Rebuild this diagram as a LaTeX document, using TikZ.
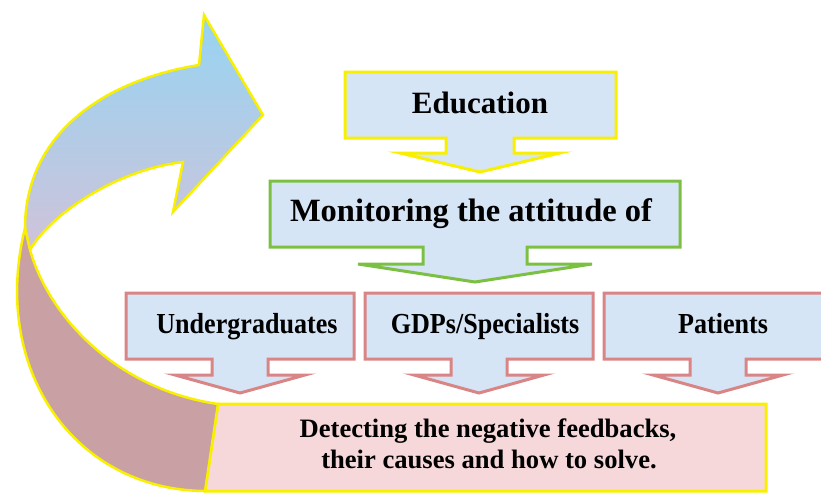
\documentclass[tikz,border=0pt]{standalone}
\usepackage{fontspec}
\setmainfont{Liberation Serif}
\newfontfamily\condfont{Liberation Serif}[FakeStretch=0.9]
\definecolor{boxfill}{HTML}{D6E5F6}
\definecolor{eduyel}{HTML}{F8F000}
\definecolor{mongreen}{HTML}{7BC043}
\definecolor{grpred}{HTML}{D98585}
\definecolor{botfill}{HTML}{F7D8DA}
\definecolor{bandred}{HTML}{C9A0A3}
\definecolor{arrtop}{HTML}{96D4F2}
\definecolor{arrmid}{HTML}{B2D3EE}
\definecolor{arrbot}{HTML}{CFC3DA}
\begin{document}
\begin{tikzpicture}[x=1pt,y=-1pt,
  box/.style={line width=3pt, line join=miter, fill=boxfill},
  lbl/.style={anchor=base, inner sep=0pt, font=\bfseries}]
\useasboundingbox (0,0) rectangle (821,496);

% Education callout
\draw[box, draw=eduyel] (345,72) -- (616,72) -- (616,138) -- (514,138) -- (514,153) -- (560,153)
  -- (480,172) -- (400,153) -- (446,153) -- (446,138) -- (345,138) -- cycle;
% Monitoring callout
\draw[box, draw=mongreen] (270,181) -- (680,181) -- (680,247) -- (527,247) -- (527,264) -- (592,264)
  -- (475,282) -- (358,264) -- (423,264) -- (423,247) -- (270,247) -- cycle;
% Undergraduates callout
\draw[box, draw=grpred] (126,293) -- (354,293) -- (354,359) -- (268,359) -- (268,375) -- (305,375)
  -- (240,393) -- (175,375) -- (212,375) -- (212,359) -- (126,359) -- cycle;
% GDPs callout
\draw[box, draw=grpred] (365,293) -- (593,293) -- (593,359) -- (507,359) -- (507,375) -- (544,375)
  -- (479,393) -- (414,375) -- (451,375) -- (451,359) -- (365,359) -- cycle;
% Patients callout
\draw[box, draw=grpred] (604,293) -- (834,293) -- (834,359) -- (746,359) -- (746,375) -- (783,375)
  -- (718,393) -- (653,375) -- (690,375) -- (690,359) -- (604,359) -- cycle;
% Bottom box
\draw[line width=3pt, line join=miter, draw=eduyel, fill=botfill]
  (218,404) -- (766,404) -- (766,491) -- (205,491) -- cycle;

% Curved arrow: blue head part
\shadedraw[draw=eduyel, line width=2.5pt, line join=miter,
  top color=arrtop, middle color=arrmid, bottom color=arrbot]
  (30,250) .. controls (50,215) and (115,170) .. (183,162) -- (173,212) -- (263,115)
  -- (204,15) -- (199,65) .. controls (95,82) and (25,140) .. (25,228) -- cycle;
% Curved arrow: red band
\draw[draw=eduyel, line width=2.5pt, line join=miter, fill=bandred]
  (25,228) .. controls (-10,370) and (75,490) .. (205,491) -- (218,404)
  .. controls (120,390) and (50,320) .. (30,250) -- cycle;

% Texts
\node[lbl, font=\bfseries\fontsize{31}{34}\selectfont] (edu) at (480,113) {Education};
\node[lbl, font=\bfseries\fontsize{32.5}{36}\selectfont] (mon) at (471,221) {Monitoring the attitude of};
\node[lbl, font=\condfont\bfseries\fontsize{29}{32}\selectfont] (ug) at (247,333) {Undergraduates};
\node[lbl, font=\condfont\bfseries\fontsize{29}{32}\selectfont] (gdp) at (485,333) {GDPs/Specialists};
\node[lbl, font=\condfont\bfseries\fontsize{29}{32}\selectfont] (pat) at (723,333) {Patients};
\node[lbl, font=\bfseries\fontsize{26.6}{31}\selectfont] (det1) at (488,437) {Detecting the negative feedbacks,};
\node[lbl, font=\bfseries\fontsize{26.6}{31}\selectfont] (det2) at (489,468) {their causes and how to solve.};
\end{tikzpicture}
\end{document}
